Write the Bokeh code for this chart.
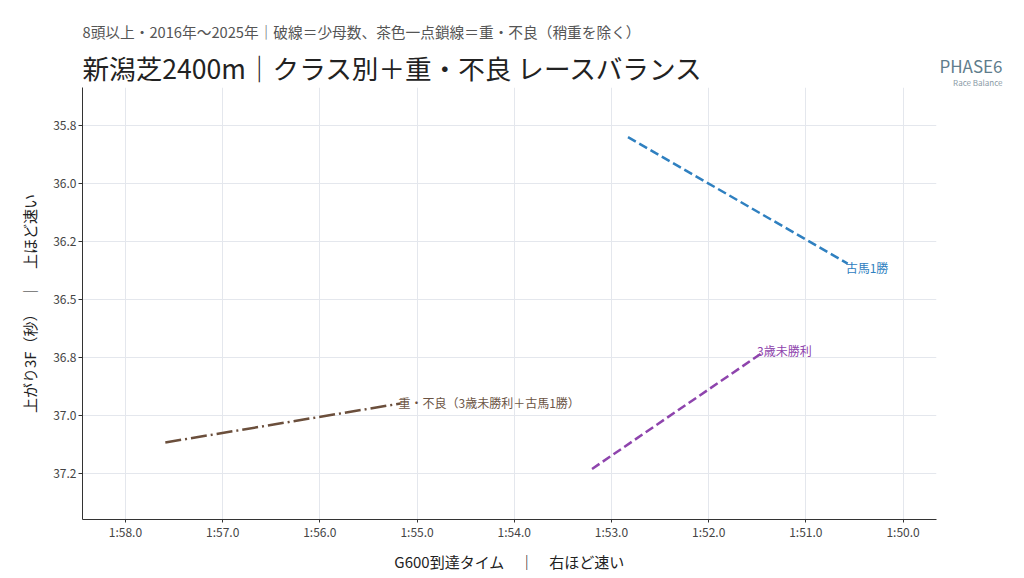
from bokeh.plotting import figure
from bokeh.models import Range1d, FixedTicker, Title, Label
from bokeh.layouts import row
from bokeh.embed import file_html
from bokeh.resources import INLINE

FONT = "Noto Sans CJK JP"

# ---- data (G600 time in seconds, last-3F seconds) ----
kobaba_x = [112.83, 110.57]
kobaba_y = [35.80, 36.345]
miwin_x = [113.20, 111.45]
miwin_y = [37.23, 36.73]
heavy_x = [117.59, 115.17]
heavy_y = [37.116, 36.948]

series_names = ["古馬1勝", "3歳未勝利", "重・不良（3歳未勝利＋古馬1勝）"]

x_ticks = [110, 111, 112, 113, 114, 115, 116, 117, 118]
x_tick_labels = ["1:50.0", "1:51.0", "1:52.0", "1:53.0", "1:54.0", "1:55.0", "1:56.0", "1:57.0", "1:58.0"]
y_ticks = [35.75, 36.0, 36.25, 36.5, 36.75, 37.0, 37.25]
y_tick_labels = ["35.8", "36.0", "36.2", "36.5", "36.8", "37.0", "37.2"]

brand_texts = ["PHASE6", "Race Balance"]

X_START, X_END = 118.442, 109.656
Y_BOTTOM, Y_TOP = 37.448, 35.586

p = figure(width=940, height=576, output_backend="svg", toolbar_location=None,
           x_range=Range1d(X_START, X_END), y_range=Range1d(Y_BOTTOM, Y_TOP),
           min_border_left=82, min_border_right=4, min_border_top=87, min_border_bottom=57)

p.outline_line_color = None
p.background_fill_color = "white"
p.border_fill_color = "white"

# axes
for ax in (p.xaxis[0], p.yaxis[0]):
    ax.axis_line_color = "#333333"
    ax.axis_line_width = 1
    ax.major_tick_line_color = "#333333"
    ax.major_tick_in = 0
    ax.minor_tick_line_color = None
    ax.major_label_text_font = FONT
    ax.major_label_text_font_size = "12px"
    ax.major_label_text_color = "#444444"
    ax.axis_label_text_font = FONT
    ax.axis_label_text_font_size = "15px"
    ax.axis_label_text_font_style = "normal"
    ax.axis_label_text_color = "#222222"

p.xaxis.ticker = FixedTicker(ticks=x_ticks)
p.xaxis.major_label_overrides = dict(zip(x_ticks, x_tick_labels))
p.yaxis.ticker = FixedTicker(ticks=y_ticks)
p.yaxis.major_label_overrides = dict(zip(y_ticks, y_tick_labels))
p.xaxis.axis_label = "G600到達タイム　｜　右ほど速い"
p.yaxis.axis_label = "上がり3F（秒）　｜　上ほど速い"
p.xaxis.major_tick_out = 3
p.yaxis.major_tick_out = 4
p.xaxis.major_label_standoff = 0
p.yaxis.major_label_standoff = 2
p.xaxis.axis_label_standoff = 8
p.yaxis.axis_label_standoff = 10

p.xgrid.grid_line_color = "#e4e7ed"
p.ygrid.grid_line_color = "#e4e7ed"
p.xgrid.grid_line_width = 1
p.ygrid.grid_line_width = 1

# titles: the figure's own title carries the subtitle (nearest the frame)
p.title.text = "8頭以上・2016年〜2025年｜破線＝少母数、茶色一点鎖線＝重・不良（稍重を除く）"
p.title.align = "left"
p.title.text_font = FONT
p.title.text_font_size = "14.7px"
p.title.text_font_style = "normal"
p.title.text_color = "#555555"
p.title.standoff = 8
main = Title(text="新潟芝2400m｜クラス別＋重・不良 レースバランス",
             align="left", text_font=FONT, text_font_size="26.6px",
             text_font_style="normal", text_color="#222222", standoff=1)
p.add_layout(main, "above")

# series
colors = ["#2f80c0", "#8e44ad", "#6b4f3c"]
dashes = ["9 4", "9 4", "16 4 2 4"]
xs = [kobaba_x, miwin_x, heavy_x]
ys = [kobaba_y, miwin_y, heavy_y]
label_colors = ["#2f80c0", "#8e44ad", "#6b5444"]
offsets = [(-2, -4), (-5, 2), (-2, 1)]
for xv, yv, c, d, name, lc, (ox, oy) in zip(xs, ys, colors, dashes, series_names, label_colors, offsets):
    p.line(xv, yv, line_color=c, line_width=2.5, line_dash=d)
    p.add_layout(Label(x=xv[-1], y=yv[-1], text=name, text_font=FONT,
                       text_font_size="12px", text_color=lc,
                       text_baseline="middle", text_align="left",
                       x_offset=ox, y_offset=oy))

# brand block at top right: a small empty figure whose titles carry the texts
b = figure(width=76, height=576, output_backend="svg", toolbar_location=None,
           x_axis_location=None, y_axis_location=None,
           x_range=Range1d(0, 1), y_range=Range1d(0, 1),
           min_border_left=0, min_border_right=14, min_border_top=87, min_border_bottom=57)
b.grid.visible = False
b.outline_line_color = None
b.background_fill_color = "white"
b.border_fill_color = "white"
# the figure's own title acts as a white-on-white spacer row
b.title.text = "."
b.title.align = "right"
b.title.text_font = FONT
b.title.text_font_size = "4px"
b.title.text_color = "white"
b.title.standoff = 18
b.add_layout(Title(text=brand_texts[1], align="right", text_font=FONT, text_font_size="8px",
                   text_font_style="normal", text_color="#8a9aa6", standoff=0), "above")
b.add_layout(Title(text=brand_texts[0], align="right", text_font=FONT, text_font_size="17px",
                   text_font_style="normal", text_color="#5f7d8c", standoff=-6), "above")

layout = row(p, b, spacing=0)
open("out.html", "w").write(file_html(layout, INLINE))
